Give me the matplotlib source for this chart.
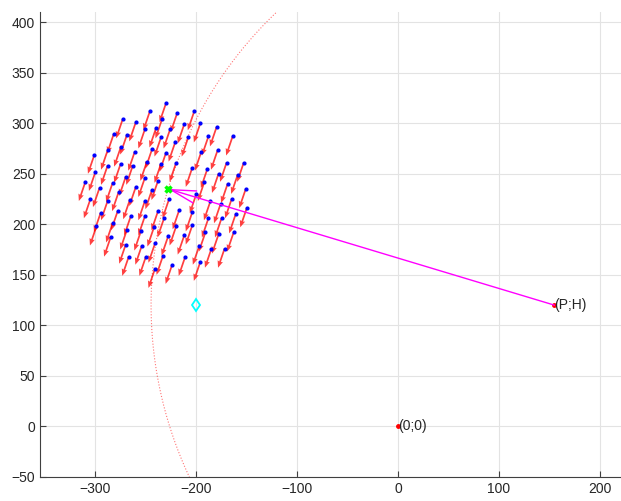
import numpy as np
import matplotlib.pyplot as plt

# point cloud (blue dots)
cloud_x = [-246, -273, -260, -282, -269, -251, -240, -288, -275, -261, -244, -235,
           -301, -300, -288, -275, -263, -249, -235, -310, -296, -283, -270, -260,
           -251, -238,
           -230, -219, -202, -234, -226, -212, -196, -180, -208, -188, -164, -221,
           -230, -195, -179, -170, -153, -220, -204, -189, -178, -159, -192, -169,
           -151,
           -305, -288, -277, -244, -251, -266, -278, -295, -299, -283, -265, -251,
           -238, -269, -255, -242, -285, -270, -254, -241, -233, -267, -250, -241,
           -227, -200, -165, -176, -186, -150, -161, -175, -188, -204, -217, -232,
           -204, -220, -191, -178, -163, -228, -212, -197, -185, -172, -224, -211,
           -196]
cloud_y = [312, 304, 301, 289, 288, 294, 295, 273, 276, 272, 274, 286,
           269, 252, 258, 260, 258, 262, 260, 242, 236, 241, 247, 237,
           246, 243,
           320, 310, 312, 304, 294, 299, 300, 296, 286, 287, 287, 281,
           271, 272, 273, 261, 261, 261, 256, 255, 250, 249, 242, 240,
           235,
           225, 223, 232, 234, 223, 224, 213, 211, 198, 201, 208, 208,
           213, 194, 193, 197, 187, 180, 179, 181, 169, 168, 168, 156,
           225, 230, 225, 220, 223, 216, 210, 206, 206, 212, 214, 206,
           199, 198, 192, 190, 192, 188, 189, 179, 176, 176, 160, 168,
           163]
# displacement drawn from every dot (red arrows)
shift_u = -6.5
shift_v = -19

# reference points
P, H = 155, 120
target = (-228, 235)
marker_pt = (-200, 120)
origin = (0, 0)

x_ticks = [-300, -200, -100, 0, 100, 200]
y_ticks = [-50, 0, 50, 100, 150, 200, 250, 300, 350, 400]

plt.rcParams['font.family'] = ['Liberation Sans', 'DejaVu Sans']
fig = plt.figure(figsize=(6.21, 5.01), dpi=100)
ax = fig.add_axes([40 / 621, 24 / 501, 581 / 621, 465 / 501])

# dotted circle through the target, centred on (P;H)
r = np.hypot(target[0] - P, target[1] - H)
t = np.linspace(np.pi * 0.45, np.pi * 1.45, 400)
ax.plot(P + r * np.cos(t), H + r * np.sin(t), ':', color='red', lw=0.8, alpha=0.55)

cx = np.array(cloud_x)
cy = np.array(cloud_y)
ax.quiver(cx, cy, np.full(len(cx), shift_u), np.full(len(cy), shift_v),
          angles='xy', scale_units='xy', scale=1, color='red', alpha=0.75,
          width=0.003, headwidth=3.2, headlength=4, headaxislength=3.6, zorder=3)
ax.plot(cx, cy, '.', color='blue', ms=4, zorder=4)

# line from (P;H) to the target
ax.annotate('', xy=target, xytext=(P, H),
            arrowprops=dict(arrowstyle='->,head_length=1.8,head_width=0.45',
                            color='magenta', lw=1, shrinkA=0, shrinkB=0), zorder=5)
ax.plot(*target, 'x', color='lime', ms=5, mew=2.5, zorder=6)
ax.plot(*marker_pt, 'd', mfc='none', mec='cyan', ms=6.5, mew=1.3)

ax.plot(P, H, '.', color='red', ms=5)
ax.text(P, H, '(P;H)', fontsize=10, color='#262626', va='center', ha='left')
ax.plot(*origin, '.', color='red', ms=5)
ax.text(origin[0], origin[1], '(0;0)', fontsize=10, color='#262626', va='center', ha='left')

ax.set_xlim(-355, 221)
ax.set_ylim(-50, 410)
ax.set_xticks(x_ticks)
ax.set_yticks(y_ticks)
ax.grid(True, color='#e3e3e3', lw=0.8)
ax.set_axisbelow(True)
for s in ['top', 'right']:
    ax.spines[s].set_visible(False)
for s in ['left', 'bottom']:
    ax.spines[s].set_color('#404040')
ax.tick_params(direction='in', length=4, colors='#404040', labelsize=10,
               labelcolor='#262626')

fig.savefig('out.png', dpi=100)
